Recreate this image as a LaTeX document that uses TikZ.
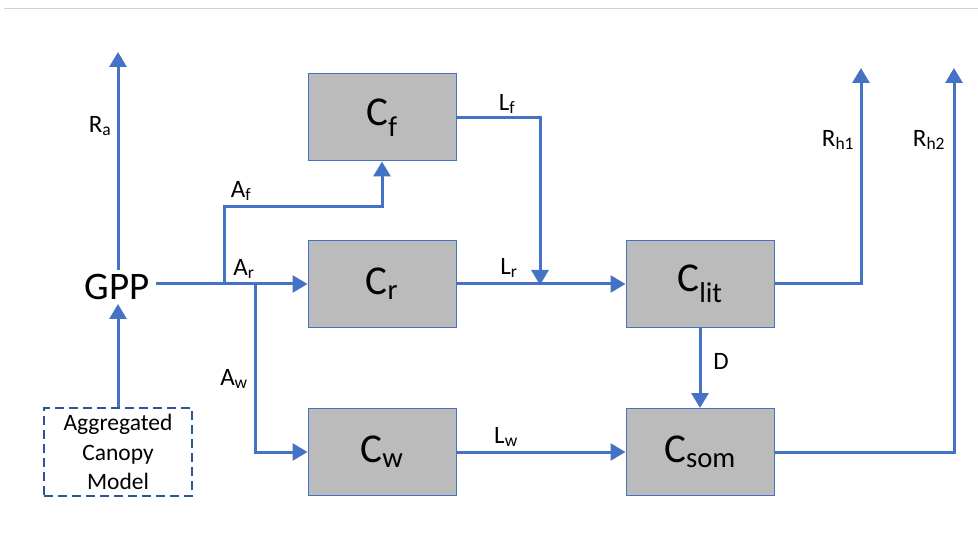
\documentclass[tikz,border=0pt]{standalone}
\usepackage{fontspec}
\setmainfont{Carlito}
\usetikzlibrary{arrows.meta}
\definecolor{flow}{HTML}{4472C4}
\definecolor{boxgray}{HTML}{BBBBBB}
\definecolor{dashblue}{HTML}{2F5597}
\tikzset{
  pool/.style={draw=flow, line width=1pt, fill=boxgray, minimum width=148pt, minimum height=87pt, inner sep=0pt, font=\fontsize{41}{48}\selectfont},
  flowline/.style={draw=flow, line width=3pt},
  flowarrow/.style={flowline, -{Triangle[length=15pt,width=17pt]}},
  lbl/.style={font=\fontsize{25}{30}\selectfont, inner sep=0pt},
}
\begin{document}
\begin{tikzpicture}[x=1pt,y=-1pt]
\useasboundingbox (0,0) rectangle (978,556);
\draw[gray!35, line width=1pt] (4,9) -- (978,9);
% pools
\node[pool] (cf) at (382,117.5) {C\textsubscript{f}};
\node[pool] (cr) at (382,284) {C\textsubscript{r}};
\node[pool] (cw) at (382,452) {C\textsubscript{w}};
\node[pool] (clit) at (700,284) {C\textsubscript{lit}};
\node[pool] (csom) at (700,452) {C\textsubscript{som}};
% GPP and canopy model
\node[font=\fontsize{39}{46}\selectfont, inner xsep=6pt, inner ysep=4pt] (gpp) at (117,287) {GPP};
\node[draw=dashblue, dashed, dash pattern=on 9pt off 5pt, line width=1.5pt, minimum width=148pt, minimum height=88pt, align=center, font=\fontsize{23.5}{29.5}\selectfont, inner sep=0pt] (acm) at (118,452) {Aggregated\\Canopy\\Model};
% coordinates
\coordinate (ratop) at (118,52);
\coordinate (bf) at (224,285);
\coordinate (bw) at (255,285);
\coordinate (rh1top) at (861,68);
\coordinate (rh2top) at (954,68);
\coordinate (lfj) at (540,285);
% connectors
\draw[flowarrow] (acm.north) -- (acm.north |- gpp.south);
\draw[flowarrow] (ratop |- gpp.north) -- (ratop);
\draw[flowarrow] (gpp.east |- cr.west) -- (cr.west);
\draw[flowarrow] (bf) -- (224,207) -| (cf.south);
\draw[flowarrow] (bw) |- (cw.west);
\draw[flowarrow] (cf.east) -| (lfj);
\draw[flowarrow] (cr.east) -- (clit.west);
\draw[flowarrow] (cw.east) -- (csom.west);
\draw[flowarrow] (clit.south) -- (csom.north);
\draw[flowarrow] (clit.east) -| (rh1top);
\draw[flowarrow] (csom.east) -| (rh2top);
% labels
\node[lbl] (lra) at (100,126) {R\textsubscript{a}};
\node[lbl] (laf) at (241,191) {A\textsubscript{f}};
\node[lbl] (lar) at (244,269) {A\textsubscript{r}};
\node[lbl] (law) at (234,379) {A\textsubscript{w}};
\node[lbl] (llf) at (507,104) {L\textsubscript{f}};
\node[lbl] (llr) at (509,268) {L\textsubscript{r}};
\node[lbl] (llw) at (506,437) {L\textsubscript{w}};
\node[lbl] (ld) at (721,361) {D};
\node[lbl] (lrh1) at (838,140) {R\textsubscript{h1}};
\node[lbl] (lrh2) at (929,140) {R\textsubscript{h2}};
\end{tikzpicture}
\end{document}
